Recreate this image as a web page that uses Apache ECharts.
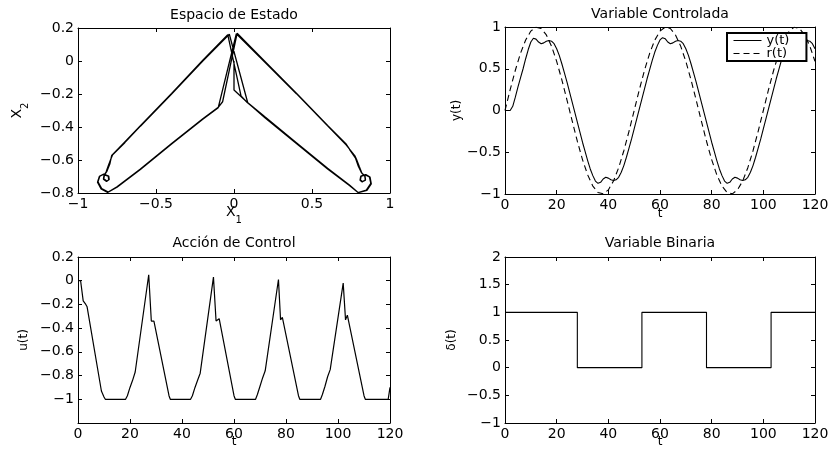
<!DOCTYPE html>
<html><head><meta charset="utf-8">
<script src="https://cdn.jsdelivr.net/npm/echarts@6/dist/echarts.min.js"></script>
<style>html,body{margin:0;padding:0;background:#fff}#c{width:831px;height:451px}</style>
</head><body><div id="c"></div>
<script>
// ---------- data ----------
const titles = ['Espacio de Estado', 'Variable Controlada', 'Acción de Control', 'Variable Binaria'];

// phase portrait (x1, x2)
const phaseX1 = [
 0, 0, 0.081,
 0.2, 0.4, 0.6, 0.74, 0.795,
 0.848, 0.877, 0.868, 0.842, 0.812, 0.808, 0.822, 0.842, 0.838, 0.818, 0.797, 0.778,
 0.72, 0.6, 0.4, 0.2, 0.02,
 -0.073, -0.101,
 -0.2, -0.4, -0.6, -0.75, -0.806,
 -0.848, -0.872, -0.86, -0.835, -0.803, -0.8, -0.815, -0.835, -0.83, -0.816, -0.796, -0.784,
 -0.7, -0.6, -0.4, -0.2, -0.04,
 0.045, 0.083,
 0.2, 0.4, 0.6, 0.74, 0.797,
 0.852, 0.88, 0.872, 0.845, 0.815, 0.81, 0.823, 0.843, 0.84, 0.82, 0.803, 0.785, 0.775,
 0.72, 0.6, 0.4, 0.2, 0.015,
 -0.101,
 -0.2, -0.4, -0.6, -0.75, -0.81,
 -0.852, -0.875, -0.863, -0.838, -0.806, -0.803, -0.817, -0.837, -0.833, -0.82, -0.804, -0.79, -0.778,
 -0.7, -0.6, -0.4, -0.2, -0.03,
 0.088,
 0.2, 0.4, 0.6, 0.74, 0.797,
 0.85, 0.878, 0.87, 0.843, 0.813, 0.809, 0.822, 0.842, 0.839, 0.819, 0.8, 0.78,
 0.74
];
const phaseX2 = [
 0, -0.176, -0.247,
 -0.34, -0.495, -0.65, -0.752, -0.797,
 -0.782, -0.742, -0.702, -0.69, -0.70, -0.722, -0.733, -0.72, -0.697, -0.678, -0.638, -0.587,
 -0.505, -0.39, -0.195, -0.005, 0.168,
 -0.247, -0.281,
 -0.35, -0.50, -0.655, -0.762, -0.794,
 -0.773, -0.732, -0.697, -0.686, -0.697, -0.718, -0.728, -0.714, -0.69, -0.671, -0.625, -0.572,
 -0.49, -0.392, -0.197, 0.005, 0.16,
 -0.212, -0.25,
 -0.343, -0.498, -0.652, -0.754, -0.798,
 -0.784, -0.745, -0.703, -0.688, -0.697, -0.72, -0.731, -0.722, -0.698, -0.68, -0.64, -0.595, -0.575,
 -0.51, -0.393, -0.198, -0.01, 0.165,
 -0.283,
 -0.353, -0.503, -0.657, -0.765, -0.797,
 -0.775, -0.735, -0.699, -0.688, -0.698, -0.72, -0.73, -0.716, -0.692, -0.673, -0.63, -0.595, -0.568,
 -0.495, -0.395, -0.2, 0.0, 0.162,
 -0.253,
 -0.345, -0.5, -0.654, -0.755, -0.798,
 -0.783, -0.743, -0.703, -0.689, -0.698, -0.721, -0.732, -0.721, -0.697, -0.679, -0.64, -0.59,
 -0.535
];

// controlled variable y(t)
const tY = [0,1,2,3,4,5,6,7,8,9,10,11,12,13,14,15,16,17,18,19,20,21,22,23,24,25,26,27,28,29,30,
 31,32,33,34,35,36,37,38,39,40,41,42,43,44,45,46,47,48,49,50,51,52,53,54,55,56,57,58,59,60,
 61,62,63,64,65,66,67,68,69,70,71,72,73,74,75,76,77,78,79,80,81,82,83,84,85,86,87,88,89,90,
 91,92,93,94,95,96,97,98,99,100,101,102,103,104,105,106,107,108,109,110,111,112,113,114,115,116,117,118,119,120];
const yVals = [0, 0, 0, 0.05, 0.16, 0.28, 0.39, 0.50, 0.62, 0.73, 0.82,
 0.865, 0.855, 0.82, 0.80, 0.81, 0.83, 0.838, 0.83, 0.80, 0.74,
 0.66, 0.56, 0.45, 0.34, 0.22, 0.10, -0.02, -0.14, -0.26, -0.38,
 -0.49, -0.60, -0.70, -0.78, -0.845, -0.872, -0.86, -0.82, -0.80, -0.81,
 -0.83, -0.838, -0.83, -0.80, -0.74, -0.66, -0.56, -0.45, -0.34, -0.22,
 -0.10, 0.02, 0.14, 0.26, 0.38, 0.49, 0.60, 0.70, 0.78, 0.845,
 0.872, 0.86, 0.82, 0.80, 0.81, 0.83, 0.838, 0.83, 0.80, 0.74,
 0.66, 0.56, 0.45, 0.34, 0.22, 0.10, -0.02, -0.14, -0.26, -0.38,
 -0.49, -0.60, -0.70, -0.78, -0.845, -0.872, -0.86, -0.82, -0.80, -0.81,
 -0.83, -0.838, -0.83, -0.80, -0.74, -0.66, -0.56, -0.45, -0.34, -0.22,
 -0.10, 0.02, 0.14, 0.26, 0.38, 0.49, 0.60, 0.70, 0.78, 0.845,
 0.872, 0.86, 0.82, 0.80, 0.81, 0.83, 0.838, 0.83, 0.80, 0.74];

// reference r(t)
const tR = [0,2,4,6,8,10,12,14,16,18,20,22,24,26,28,30,32,34,36,38,40,42,44,46,48,50,52,54,56,58,60,
 62,64,66,68,70,72,74,76,78,80,82,84,86,88,90,92,94,96,98,100,102,104,106,108,110,112,114,116,118,120];
const rVals = [0, 0.249, 0.482, 0.685, 0.844, 0.951, 0.998, 0.982, 0.905, 0.771, 0.588, 0.368, 0.125,
 -0.125, -0.368, -0.588, -0.771, -0.905, -0.982, -0.998, -0.951, -0.844, -0.685, -0.482, -0.249,
 0, 0.249, 0.482, 0.685, 0.844, 0.951, 0.998, 0.982, 0.905, 0.771, 0.588, 0.368, 0.125,
 -0.125, -0.368, -0.588, -0.771, -0.905, -0.982, -0.998, -0.951, -0.844, -0.685, -0.482, -0.249,
 0, 0.249, 0.482, 0.685, 0.844, 0.951, 0.998, 0.982, 0.905, 0.771, 0.588];

// control action u(t)
const tU = [0, 1, 2, 3, 3.5, 9, 10, 10.5, 18.3, 19, 20, 21, 22, 27.2, 28.2, 29.2, 29.6, 35, 35.5,
 43.3, 44, 45, 46, 47, 52.1, 53.1, 53.8, 54.3, 60, 60.5,
 68.3, 69, 70, 71, 72, 77.1, 77.9, 78.6, 79, 84.8, 85.3,
 93.3, 94, 95, 96, 97, 102, 102.9, 103.6, 104, 110, 110.5, 119.3, 120];
const uVals = [0, 0, -0.17, -0.2, -0.22, -0.93, -0.98, -1, -1, -0.97, -0.9, -0.84, -0.77, 0.05, -0.34, -0.34, -0.33, -0.97, -1,
 -1, -0.97, -0.9, -0.84, -0.78, 0.03, -0.34, -0.33, -0.32, -0.97, -1,
 -1, -0.96, -0.89, -0.82, -0.76, 0.01, -0.33, -0.31, -0.30, -0.97, -1,
 -1, -0.96, -0.89, -0.81, -0.75, -0.02, -0.33, -0.29, -0.28, -0.97, -1, -1, -0.9];

// binary variable delta(t)
const tB = [0, 28, 28, 53, 53, 78, 78, 103, 103, 120];
const bVals = [1, 1, 0, 0, 1, 1, 0, 0, 1, 1];

// ---------- chart ----------
const FONT = 'DejaVu Sans';
const pairs = (xs, ys) => xs.map((x, i) => [x, ys[i]]);
function fmt(v) { const s = String(Math.round(v * 100) / 100); return s.replace('-', '\u2212'); }
function fmtBL(v) { return Math.abs(v + 1.2) < 1e-6 ? '' : fmt(v); }

function mainAxis(gridIndex, min, max, interval, extra) {
  return Object.assign({
    type: 'value', gridIndex, min, max, interval,
    axisLine: { show: true, onZero: false, lineStyle: { color: '#000', width: 1 } },
    axisTick: { show: true, inside: true, length: 4, lineStyle: { color: '#000', width: 1 } },
    axisLabel: { show: true, color: '#000', fontFamily: FONT, fontSize: 14, margin: 4,
      showMinLabel: true, showMaxLabel: true, formatter: fmt },
    splitLine: { show: false },
    nameLocation: 'middle',
    nameMoveOverlap: false,
    nameTextStyle: { color: '#000', fontFamily: FONT, fontSize: 12 }
  }, extra || {});
}
function mirrorAxis(gridIndex, min, max, interval, position) {
  return {
    type: 'value', gridIndex, min, max, interval, position,
    axisLine: { show: true, onZero: false, lineStyle: { color: '#000', width: 1 } },
    axisTick: { show: true, inside: true, length: 4, lineStyle: { color: '#000', width: 1 } },
    axisLabel: { show: false }, splitLine: { show: false }
  };
}
const subRich = {
  a: { fontFamily: FONT, fontSize: 14, color: '#000', lineHeight: 20, verticalAlign: 'top' },
  b: { fontFamily: FONT, fontSize: 10, color: '#000', lineHeight: 20, verticalAlign: 'bottom' }
};

const grids = [
  { left: 78, top: 28, width: 312, height: 165 },
  { left: 505, top: 27, width: 310, height: 167 },
  { left: 78, top: 257, width: 312, height: 166 },
  { left: 505, top: 257, width: 310, height: 166 }
];
const titlePos = [[234, 15], [660, 14], [234, 243], [660, 243]];

const xAxes = [
  mainAxis(0, -1, 1, 0.5, { name: '{a|X}{b|1}', nameGap: 12, nameTextStyle: { rich: subRich } }),
  mirrorAxis(0, -1, 1, 0.5, 'top'),
  mainAxis(1, 0, 120, 20, { name: 't', nameGap: 14 }),
  mirrorAxis(1, 0, 120, 20, 'top'),
  mainAxis(2, 0, 120, 20, { name: 't', nameGap: 13 }),
  mirrorAxis(2, 0, 120, 20, 'top'),
  mainAxis(3, 0, 120, 20, { name: 't', nameGap: 13 }),
  mirrorAxis(3, 0, 120, 20, 'top')
];
const yAxes = [
  mainAxis(0, -0.8, 0.2, 0.2, { name: '{a|X}{b|2}', nameGap: 48, nameMoveOverlap: true, nameTextStyle: { rich: subRich } }),
  mirrorAxis(0, -0.8, 0.2, 0.2, 'right'),
  mainAxis(1, -1, 1, 0.5, { name: 'y(t)', nameGap: 42, nameMoveOverlap: true }),
  mirrorAxis(1, -1, 1, 0.5, 'right'),
  mainAxis(2, -1.2, 0.2, 0.2, { name: 'u(t)', nameGap: 48, nameMoveOverlap: true,
    axisLabel: { show: true, color: '#000', fontFamily: FONT, fontSize: 14, margin: 4, showMinLabel: true, showMaxLabel: true, formatter: fmtBL } }),
  mirrorAxis(2, -1.2, 0.2, 0.2, 'right'),
  mainAxis(3, -1, 2, 0.5, { name: '\u03b4(t)', nameGap: 47, nameMoveOverlap: true }),
  mirrorAxis(3, -1, 2, 0.5, 'right')
];

const lineBase = { type: 'line', symbol: 'none', showSymbol: false, animation: false, silent: true };

const option = {
  animation: false,
  backgroundColor: '#fff',
  grid: grids.map(g => Object.assign({ outerBoundsMode: 'none', containLabel: false }, g)),
  xAxis: xAxes,
  yAxis: yAxes,
  legend: {
    data: ['y(t)', 'r(t)'],
    orient: 'vertical', left: 727, top: 33,
    backgroundColor: '#fff', borderColor: '#000', borderWidth: 2,
    padding: [1, 17, 1, 6], itemGap: 0, itemWidth: 28, itemHeight: 12,
    itemStyle: { color: 'rgba(0,0,0,0)', borderWidth: 0, opacity: 0 },
    lineStyle: { width: 1 },
    textStyle: { color: '#000', fontFamily: FONT, fontSize: 13, lineHeight: 13 },
    z: 10
  },
  graphic: titles.map((t, i) => ({
    type: 'text', x: titlePos[i][0], y: titlePos[i][1],
    style: { text: t, fill: '#000', fontFamily: FONT, fontSize: 14, align: 'center', verticalAlign: 'middle' }
  })),
  series: [
    Object.assign({}, lineBase, { name: 'phase', xAxisIndex: 0, yAxisIndex: 0,
      data: pairs(phaseX1, phaseX2), lineStyle: { color: '#000', width: 1.3 } }),
    Object.assign({}, lineBase, { name: 'y(t)', xAxisIndex: 2, yAxisIndex: 2,
      data: pairs(tY, yVals), lineStyle: { color: '#000', width: 1.1 }, itemStyle: { color: '#000' } }),
    Object.assign({}, lineBase, { name: 'r(t)', xAxisIndex: 2, yAxisIndex: 2,
      data: pairs(tR, rVals), lineStyle: { color: '#000', width: 1.1, type: [6, 4] }, itemStyle: { color: '#000' } }),
    Object.assign({}, lineBase, { name: 'u', xAxisIndex: 4, yAxisIndex: 4,
      data: pairs(tU, uVals), lineStyle: { color: '#000', width: 1.2 } }),
    Object.assign({}, lineBase, { name: 'delta', xAxisIndex: 6, yAxisIndex: 6,
      data: pairs(tB, bVals), lineStyle: { color: '#000', width: 1.1 } })
  ]
};
const chart = echarts.init(document.getElementById('c'), null, { renderer: 'canvas' });
chart.setOption(option);
</script>
</body></html>
